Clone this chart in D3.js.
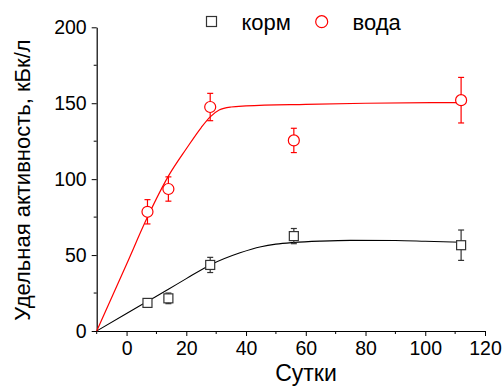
<!DOCTYPE html>
<html>
<head>
<meta charset="utf-8">
<script src="https://cdn.jsdelivr.net/npm/d3@7"></script>
<style>
  body { margin: 0; background: #fff; }
  svg text { font-family: "Liberation Sans", Arial, sans-serif; fill: #000; }
</style>
</head>
<body>
<svg id="chart" width="504" height="387"></svg>
<script>
// measured days and values
const days = [7, 14, 28, 56, 112];
const feedValues = [18.5, 21.5, 43.5, 62.5, 56.5];
const feedErrors = [2.5, 3.5, 5, 5, 10];
const waterValues = [78.5, 93.5, 147.5, 125.5, 152];
const waterErrors = [8, 8, 9, 8, 15];

// fitted curves
const feedFitX = [-10, 0, 7, 14, 20, 28, 38, 45, 50, 56, 65, 75, 90, 100, 112];
const feedFitY = [0, 11.5, 19.5, 27.5, 34.5, 43.5, 51.5, 55.5, 57.2, 58.3, 59.2, 59.7, 59.6, 59.1, 58.4];
const waterFitX = [-10, 0, 7, 14, 20, 25, 28, 31, 35, 40, 60, 80, 112];
const waterFitY = [0, 44, 75, 102, 120, 134, 141, 145.5, 147.5, 148.2, 149.3, 150, 150.4];

const xTicks = [0, 20, 40, 60, 80, 100, 120];
const yTicks = [0, 50, 100, 150, 200];
const seriesNames = ['корм', 'вода'];

const svg = d3.select('#chart');

const x = d3.scaleLinear().domain([-10, 120]).range([96.7, 485]);
const y = d3.scaleLinear().domain([0, 200]).range([331, 27.3]);

// minor ticks
const xMinor = d3.range(-10, 121, 10).filter(d => xTicks.indexOf(d) < 0);
const yMinor = d3.range(25, 200, 50);

const xAxis = svg.append('g')
  .attr('transform', 'translate(0,' + y(0) + ')')
  .call(d3.axisBottom(x).tickValues(xTicks).tickSize(5).tickSizeOuter(0).tickPadding(5));
xAxis.selectAll('text').attr('font-size', 19.5);
xAxis.selectAll('.minor').data(xMinor).enter().append('line')
  .attr('class', 'minor')
  .attr('x1', d => x(d)).attr('x2', d => x(d))
  .attr('y1', 0).attr('y2', 3)
  .attr('stroke', '#000');

const yAxis = svg.append('g')
  .attr('transform', 'translate(' + x(-10) + ',0)')
  .call(d3.axisLeft(y).tickValues(yTicks).tickSize(5).tickSizeOuter(0).tickPadding(5));
yAxis.selectAll('text').attr('font-size', 19.5);
yAxis.selectAll('.minor').data(yMinor).enter().append('line')
  .attr('class', 'minor')
  .attr('y1', d => y(d)).attr('y2', d => y(d))
  .attr('x1', 0).attr('x2', -3)
  .attr('stroke', '#000');
svg.selectAll('.domain').attr('stroke', '#000').attr('stroke-width', 1.2);

// axis titles
svg.append('text')
  .attr('x', 306).attr('y', 381)
  .attr('text-anchor', 'middle')
  .attr('font-size', 23)
  .text('Сутки');

svg.append('text')
  .attr('transform', 'translate(29.5,180) rotate(-90)')
  .attr('text-anchor', 'middle')
  .attr('font-size', 22)
  .text('Удельная активность, кБк/л');

// fit lines
const line = d3.line().x(d => x(d[0])).y(d => y(d[1])).curve(d3.curveMonotoneX);

svg.append('path')
  .datum(d3.zip(feedFitX, feedFitY))
  .attr('d', line)
  .attr('fill', 'none')
  .attr('stroke', '#000')
  .attr('stroke-width', 1.1);

svg.append('path')
  .datum(d3.zip(waterFitX, waterFitY))
  .attr('d', line)
  .attr('fill', 'none')
  .attr('stroke', '#ff0000')
  .attr('stroke-width', 1.2);

function errorBars(vals, errs, color) {
  const g = svg.append('g').attr('stroke', color).attr('stroke-width', 1.2);
  days.forEach((d, i) => {
    const cx = x(d), lo = y(vals[i] - errs[i]), hi = y(vals[i] + errs[i]);
    g.append('line').attr('x1', cx).attr('x2', cx).attr('y1', lo).attr('y2', hi);
    g.append('line').attr('x1', cx - 3).attr('x2', cx + 3).attr('y1', lo).attr('y2', lo);
    g.append('line').attr('x1', cx - 3).attr('x2', cx + 3).attr('y1', hi).attr('y2', hi);
  });
}

errorBars(feedValues, feedErrors, '#333');
errorBars(waterValues, waterErrors, '#ff0000');

svg.append('g').selectAll('rect')
  .data(d3.zip(days, feedValues))
  .enter().append('rect')
  .attr('x', d => x(d[0]) - 4.5)
  .attr('y', d => y(d[1]) - 4.5)
  .attr('width', 9).attr('height', 9)
  .attr('fill', '#fff')
  .attr('stroke', '#333')
  .attr('stroke-width', 1.2);

svg.append('g').selectAll('circle')
  .data(d3.zip(days, waterValues))
  .enter().append('circle')
  .attr('cx', d => x(d[0]))
  .attr('cy', d => y(d[1]))
  .attr('r', 5.5)
  .attr('fill', '#fff')
  .attr('stroke', '#ff0000')
  .attr('stroke-width', 1.2);

// legend
const legend = svg.append('g');
legend.append('rect')
  .attr('x', 206.5).attr('y', 16.5).attr('width', 10).attr('height', 10)
  .attr('fill', '#fff').attr('stroke', '#333').attr('stroke-width', 1.2);
legend.append('text').attr('x', 241.5).attr('y', 30).attr('font-size', 22).text(seriesNames[0]);
legend.append('circle')
  .attr('cx', 321.7).attr('cy', 21.7).attr('r', 6)
  .attr('fill', '#fff').attr('stroke', '#ff0000').attr('stroke-width', 1.2);
legend.append('text').attr('x', 352.5).attr('y', 30).attr('font-size', 22).text(seriesNames[1]);
</script>
</body>
</html>
